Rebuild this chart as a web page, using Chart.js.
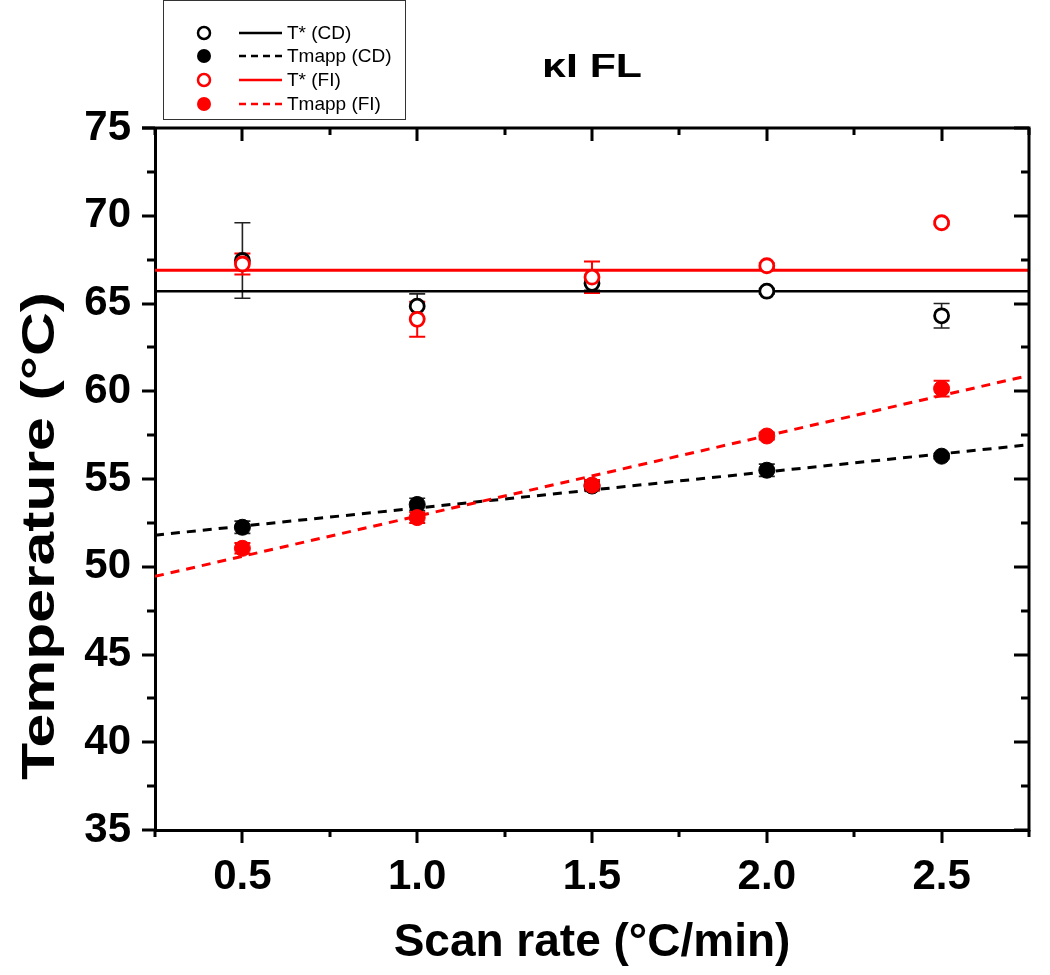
<!DOCTYPE html>
<html><head><meta charset="utf-8">
<script src="https://cdn.jsdelivr.net/npm/chart.js@4.4.1/dist/chart.umd.min.js"></script>
<style>html,body{margin:0;padding:0;background:#fff;} #wrap{width:1050px;height:975px;position:relative;}</style>
</head><body><div id="wrap"><canvas id="c" width="1050" height="975"></canvas></div>
<script>
// ---- data ----
const scanRates = [0.5, 1.0, 1.5, 2.0, 2.5];
const tStarCD    = [67.45, 64.85, 66.15, 65.7, 64.3];
const tStarCDErr = [2.15, 0.7, 0.4, 0.15, 0.7];
const tmappCD    = [52.25, 53.55, 54.6, 55.5, 56.3];
const tmappCDErr = [0.35, 0.35, 0.25, 0.35, 0.15];
const tStarFI    = [67.25, 64.1, 66.5, 67.15, 69.6];
const tStarFIErr = [0.6, 1.0, 0.9, 0.15, 0.1];
const tmappFI    = [51.05, 52.8, 54.65, 57.45, 60.15];
const tmappFIErr = [0.3, 0.3, 0.3, 0.2, 0.45];
const lineX      = [0.25, 2.75];
const tStarCDFit = [65.7, 65.7];
const tStarFIFit = [66.9, 66.9];
const tmappCDFit = [51.8, 56.95];
const tmappFIFit = [49.45, 60.9];
const xTicks = [0.5, 1.0, 1.5, 2.0, 2.5];
const yTicks = [35, 40, 45, 50, 55, 60, 65, 70, 75];
const chartTitle = 'κI FL';
const xTitle = 'Scan rate (°C/min)';
const yTitle = 'Temperature (°C)';

const RED = '#ff0000', BLACK = '#000000';
const FONT = "'Liberation Sans', Arial, sans-serif";
const pts = (xs, ys) => xs.map((x, i) => ({x, y: ys[i]}));

const datasets = [
  {label:'T* (CD)', kind:'line', data: pts(lineX, tStarCDFit), borderColor: BLACK, borderWidth: 2.5, pointRadius: 0, showLine: true, order: 10},
  {label:'T* (FI)', kind:'line', data: pts(lineX, tStarFIFit), borderColor: RED, borderWidth: 3, pointRadius: 0, showLine: true, order: 9},
  {label:'Tmapp (CD)', kind:'line', data: pts(lineX, tmappCDFit), borderColor: BLACK, borderWidth: 3, borderDash:[9,7], pointRadius: 0, showLine: true, order: 8},
  {label:'Tmapp (FI)', kind:'line', data: pts(lineX, tmappFIFit), borderColor: RED, borderWidth: 3, borderDash:[9,7], pointRadius: 0, showLine: true, order: 7},
  {label:'T* (CD)', kind:'pt', err: tStarCDErr, data: pts(scanRates, tStarCD), showLine:false, pointRadius: 7, pointBorderWidth: 2.8, pointBorderColor: BLACK, pointBackgroundColor: '#fff', order: 4},
  {label:'Tmapp (CD)', kind:'pt', err: tmappCDErr, data: pts(scanRates, tmappCD), showLine:false, pointRadius: 8, pointBorderWidth: 1, pointBorderColor: BLACK, pointBackgroundColor: BLACK, order: 3},
  {label:'T* (FI)', kind:'pt', err: tStarFIErr, data: pts(scanRates, tStarFI), showLine:false, pointRadius: 7, pointBorderWidth: 2.8, pointBorderColor: RED, pointBackgroundColor: '#fff', order: 2},
  {label:'Tmapp (FI)', kind:'pt', err: tmappFIErr, data: pts(scanRates, tmappFI), showLine:false, pointRadius: 8, pointBorderWidth: 1, pointBorderColor: RED, pointBackgroundColor: RED, order: 1},
];

function stretchedText(ctx, text, cx, cy, targetW, angle) {
  ctx.save();
  ctx.translate(cx, cy);
  if (angle) ctx.rotate(angle);
  const w = ctx.measureText(text).width;
  ctx.scale(targetW / w, 1);
  ctx.textAlign = 'center'; ctx.textBaseline = 'middle';
  ctx.fillText(text, 0, 0);
  ctx.restore();
}

const decor = {
  id: 'decor',
  beforeDatasetsDraw(chart) {
    const ctx = chart.ctx, xs = chart.scales.x, ys = chart.scales.y;
    ctx.save();
    chart.data.datasets.forEach(ds => {
      if (ds.kind !== 'pt') return;
      const col = ds.pointBorderColor === RED ? RED : '#222';
      ctx.strokeStyle = col;
      ctx.lineWidth = ds.pointBorderColor === RED ? 2 : 1.6;
      ds.data.forEach((p, i) => {
        const e = ds.err[i];
        const px = xs.getPixelForValue(p.x);
        const y1 = ys.getPixelForValue(p.y + e), y2 = ys.getPixelForValue(p.y - e);
        ctx.beginPath();
        ctx.moveTo(px, y1); ctx.lineTo(px, y2);
        ctx.moveTo(px - 8, y1); ctx.lineTo(px + 8, y1);
        ctx.moveTo(px - 8, y2); ctx.lineTo(px + 8, y2);
        ctx.stroke();
      });
    });
    ctx.restore();
  },
  afterDraw(chart) {
    const ctx = chart.ctx, xs = chart.scales.x, ys = chart.scales.y;
    const {left, right, top, bottom} = chart.chartArea;
    ctx.save();
    ctx.strokeStyle = BLACK; ctx.lineWidth = 3; ctx.lineCap = 'butt';
    // frame top & right
    ctx.beginPath();
    ctx.moveTo(left - 13, top); ctx.lineTo(right + 1.5, top);
    ctx.moveTo(right, top); ctx.lineTo(right, bottom + 1.5);
    ctx.stroke();
    // x ticks
    const xStep = (xTicks[1] - xTicks[0]) / 2;
    for (let v = xs.min; v <= xs.max + 1e-9; v += xStep) {
      const major = xTicks.some(t => Math.abs(t - v) < 1e-6);
      const px = Math.round(xs.getPixelForValue(v));
      const L = major ? 13 : 7;
      ctx.beginPath();
      ctx.moveTo(px, bottom); ctx.lineTo(px, bottom + L);
      ctx.moveTo(px, top); ctx.lineTo(px, top + L);
      ctx.stroke();
    }
    const yStep = (yTicks[1] - yTicks[0]) / 2;
    for (let v = ys.min; v <= ys.max + 1e-9; v += yStep) {
      const major = yTicks.some(t => Math.abs(t - v) < 1e-6);
      const py = Math.round(ys.getPixelForValue(v));
      ctx.beginPath();
      ctx.moveTo(left, py); ctx.lineTo(left - (major ? 13 : 8), py);
      ctx.moveTo(right, py); ctx.lineTo(right - (major ? 15 : 8), py);
      ctx.stroke();
    }
    // chart title
    ctx.fillStyle = BLACK;
    ctx.font = `bold 34px ${FONT}`;
    stretchedText(ctx, chartTitle, (left + right) / 2, 68, 100, 0);
    // y axis title
    ctx.font = `bold 46px ${FONT}`;
    stretchedText(ctx, yTitle, 41, 536, 488, -Math.PI / 2);
    // legend
    ctx.lineWidth = 1; ctx.strokeStyle = '#333';
    ctx.strokeRect(163.5, 0.5, 242, 119);
    const items = chart.data.datasets.filter(d => d.kind === 'pt');
    const rows = [33, 56, 80, 104];
    const order = ['T* (CD)', 'Tmapp (CD)', 'T* (FI)', 'Tmapp (FI)'];
    order.forEach((lab, i) => {
      const pd = items.find(d => d.label === lab);
      const ld = chart.data.datasets.find(d => d.kind === 'line' && d.label === lab);
      const y = rows[i];
      ctx.beginPath();
      ctx.arc(204, y, pd.pointBackgroundColor === '#fff' ? 6 : 7, 0, Math.PI * 2);
      if (pd.pointBackgroundColor === '#fff') { ctx.lineWidth = 2.5; ctx.strokeStyle = pd.pointBorderColor; ctx.fillStyle='#fff'; ctx.fill(); ctx.stroke(); }
      else { ctx.fillStyle = pd.pointBackgroundColor; ctx.fill(); }
      ctx.beginPath();
      ctx.lineWidth = 2.5; ctx.strokeStyle = ld.borderColor;
      ctx.setLineDash(ld.borderDash ? [7, 5] : []);
      ctx.moveTo(239, y); ctx.lineTo(282, y); ctx.stroke();
      ctx.setLineDash([]);
      ctx.fillStyle = BLACK; ctx.font = `19px ${FONT}`;
      ctx.textAlign = 'left'; ctx.textBaseline = 'middle';
      ctx.fillText(lab, 287, y + 1);
    });
    ctx.restore();
  }
};

new Chart(document.getElementById('c'), {
  type: 'scatter',
  data: { datasets },
  options: {
    responsive: false, animation: false,
    layout: { padding: { top: 128, right: 21, left: 0, bottom: 0 } },
    plugins: { legend: { display: false }, tooltip: { enabled: false } },
    scales: {
      x: {
        type: 'linear', min: 0.25, max: 2.75,
        afterFit(s) { s.height = 145; },
        afterBuildTicks(s) { s.ticks = xTicks.map(v => ({value: v})); },
        ticks: { color: BLACK, font: { family: FONT, size: 42, weight: 'bold' }, padding: 22, maxRotation: 0,
                 callback: v => Number(v).toFixed(1) },
        grid: { display: true, drawOnChartArea: false, drawTicks: false },
        border: { display: true, color: BLACK, width: 3 },
        title: { display: true, text: xTitle, color: BLACK, font: { family: FONT, size: 46, weight: 'bold' }, padding: { top: 0, bottom: 4 } }
      },
      y: {
        type: 'linear', min: 35, max: 75,
        afterFit(s) { s.width = 155; },
        afterBuildTicks(s) { s.ticks = yTicks.map(v => ({value: v})); },
        ticks: { color: BLACK, font: { family: FONT, size: 42, weight: 'bold' }, padding: 24 },
        grid: { display: true, drawOnChartArea: false, drawTicks: false },
        border: { display: true, color: BLACK, width: 3 },
        title: { display: false, text: yTitle }
      }
    }
  },
  plugins: [decor]
});
</script></body></html>
